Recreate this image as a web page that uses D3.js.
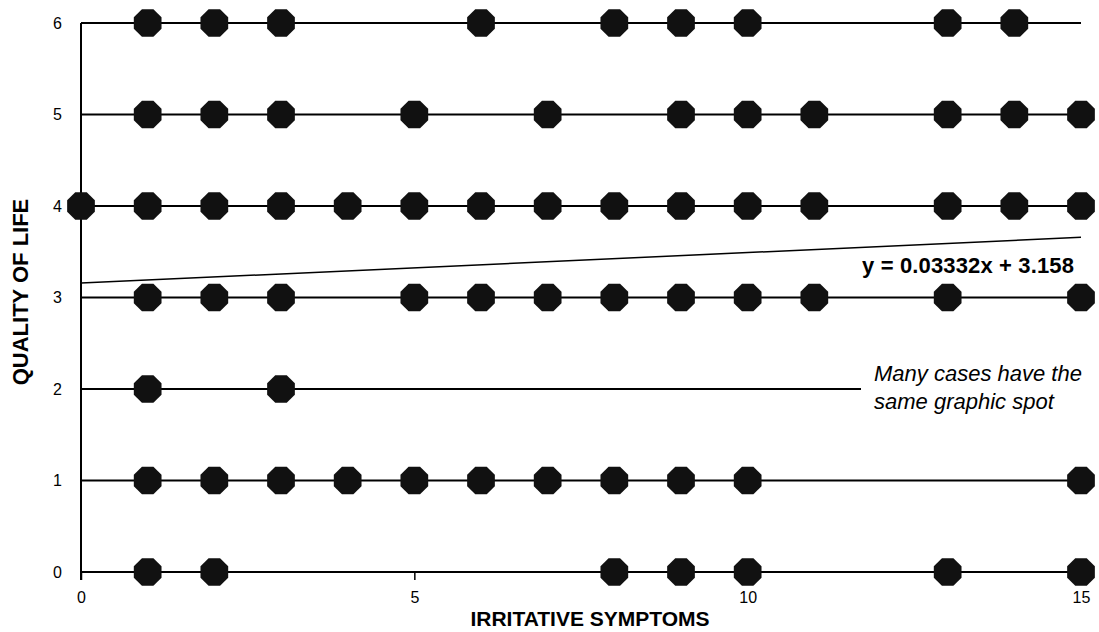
<!DOCTYPE html>
<html>
<head>
<meta charset="utf-8">
<script src="https://cdn.jsdelivr.net/npm/d3@7"></script>
<style>
  body { margin: 0; background: #fff; }
  svg { display: block; font-family: Arial, "Liberation Sans", sans-serif; }
</style>
</head>
<body>
<svg width="1099" height="632"></svg>
<script>
// quality of life levels and the symptom scores found at each level
const levels = [0, 1, 2, 3, 4, 5, 6]
const rowPoints = {
	6: [1, 2, 3, 6, 8, 9, 10, 13, 14],
	5: [1, 2, 3, 5, 7, 9, 10, 11, 13, 14, 15],
	4: [0, 1, 2, 3, 4, 5, 6, 7, 8, 9, 10, 11, 13, 14, 15],
	3: [1, 2, 3, 5, 6, 7, 8, 9, 10, 11, 13, 15],
	2: [1, 3],
	1: [1, 2, 3, 4, 5, 6, 7, 8, 9, 10, 15],
	0: [1, 2, 8, 9, 10, 13, 15]
}
// where each level's guide line ends
const rowLineEnd = [15, 15, 11.7, 15, 15, 15, 15]
const xTicks = [0, 5, 10, 15]
const slope = 0.03332
const intercept = 3.158

let points = []
levels.forEach(l => rowPoints[l].forEach(x => points.push({ x: x, y: l })))

let svg = d3.select('svg')

let xScale = d3.scaleLinear().domain([0, 15]).range([81, 1081])
let yScale = d3.scaleLinear().domain([0, 6]).range([572, 23])

// guide lines per level
svg.append('g').selectAll('line')
	.data(levels)
	.join('line')
	.attr('x1', xScale(0))
	.attr('x2', d => xScale(rowLineEnd[d]))
	.attr('y1', d => yScale(d))
	.attr('y2', d => yScale(d))
	.attr('stroke', '#000')
	.attr('stroke-width', 2)

// left axis line
svg.append('line')
	.attr('x1', xScale(0)).attr('x2', xScale(0))
	.attr('y1', yScale(6)).attr('y2', yScale(0) + 8)
	.attr('stroke', '#000').attr('stroke-width', 2)

// bottom axis ticks + labels
let bottomAxis = d3.axisBottom(xScale).tickValues(xTicks).tickFormat(d3.format('d')).tickSize(8).tickPadding(12)
let bottomAxisG = svg.append('g')
	.attr('transform', `translate(0, ${yScale(0)})`)
	.call(bottomAxis)
bottomAxisG.select('.domain').remove()
bottomAxisG.selectAll('line').attr('stroke-width', 1.5)
bottomAxisG.selectAll('text')
	.attr('font-size', 16).attr('font-family', 'Arial, "Liberation Sans", sans-serif').attr('fill', '#000')

// left tick labels
let leftAxis = d3.axisLeft(yScale).tickValues(levels).tickFormat(d3.format('d')).tickSize(0).tickPadding(19)
let leftAxisG = svg.append('g')
	.attr('transform', `translate(${xScale(0)}, 0)`)
	.call(leftAxis)
leftAxisG.select('.domain').remove()
leftAxisG.selectAll('text')
	.attr('font-size', 16).attr('font-family', 'Arial, "Liberation Sans", sans-serif').attr('fill', '#000')

// trend line
svg.append('line')
	.attr('x1', xScale(0)).attr('y1', yScale(intercept))
	.attr('x2', xScale(15)).attr('y2', yScale(intercept + slope * 15))
	.attr('stroke', '#000').attr('stroke-width', 1.5)

// octagon dots
const r = 15
const octagon = d3.range(8).map(i => {
	let a = Math.PI / 8 + i * Math.PI / 4
	return [r * Math.cos(a), r * Math.sin(a)]
})
svg.append('g').selectAll('path')
	.data(points)
	.join('path')
	.attr('transform', d => `translate(${xScale(d.x)}, ${yScale(d.y)})`)
	.attr('d', 'M' + octagon.join('L') + 'Z')
	.attr('fill', '#111')

// text
svg.append('text')
	.attr('x', 862).attr('y', 273)
	.attr('font-size', 22).attr('font-weight', 'bold')
	.attr('textLength', 212)
	.text('y = 0.03332x + 3.158')

let note = svg.append('text')
	.attr('font-size', 22).attr('font-style', 'italic')
note.append('tspan').attr('x', 874).attr('y', 381).text('Many cases have the')
note.append('tspan').attr('x', 874).attr('y', 409).text('same graphic spot')

svg.append('text')
	.attr('x', 590).attr('y', 626)
	.attr('text-anchor', 'middle')
	.attr('font-size', 21).attr('font-weight', 'bold')
	.text('IRRITATIVE SYMPTOMS')

svg.append('text')
	.attr('transform', 'translate(28, 292) rotate(-90)')
	.attr('text-anchor', 'middle')
	.attr('font-size', 22).attr('font-weight', 'bold')
	.text('QUALITY OF LIFE')
</script>
</body>
</html>
